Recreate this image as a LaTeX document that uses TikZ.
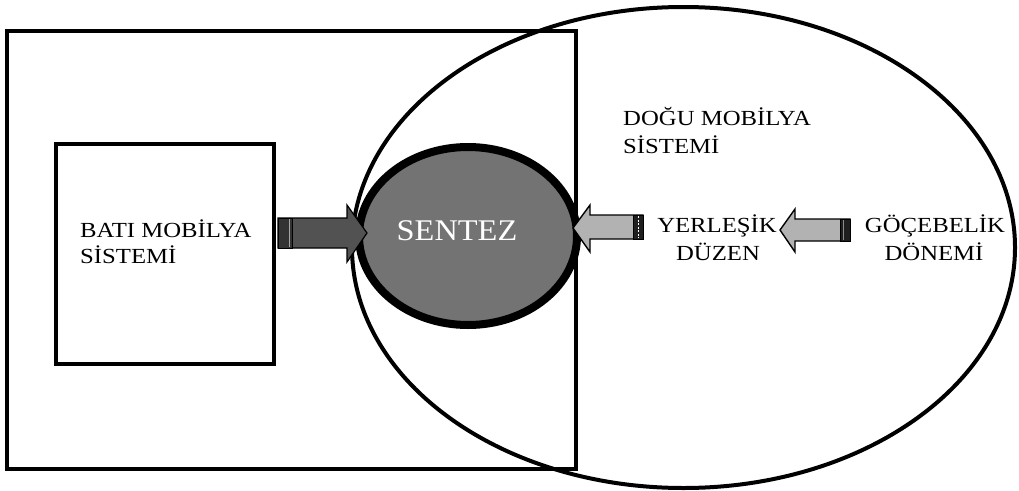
\documentclass[tikz,border=0pt]{standalone}
\usepackage{fontspec}
\setmainfont{Liberation Serif}
\newfontfamily\lblfont[FakeStretch=1.15]{Liberation Serif}
\newfontfamily\szfont[FakeStretch=1.08]{Liberation Serif}
\tikzset{
  frame/.style={draw=black, line width=4.5pt},
  inner/.style={draw=black, line width=3.6pt},
  sentez/.style={draw=black, line width=8pt, fill=black!55},
  lbl/.style={inner sep=0pt, font=\lblfont\fontsize{21.5}{25}\selectfont},
  darkarrow/.style={draw=black, line width=1.2pt, fill=black!68, line join=miter},
  lightarrow/.style={draw=black, line width=1.4pt, fill=black!30, line join=miter},
  capbox/.style={draw=black, line width=1pt, fill=black!88},
}
\begin{document}
\begin{tikzpicture}[x=1pt,y=-1pt]
\useasboundingbox (0,0) rectangle (1019,490);
% outer frames
\draw[frame] (7,31) rectangle (576,469);
\draw[frame, line width=4pt] (683.5,247.5) ellipse [x radius=331.5pt, y radius=240.5pt];
\draw[inner] (56,144) rectangle (274,364);
% synthesis ellipse
\node[draw=none, inner sep=0pt, minimum width=0pt] (sz) at (468,236) {};
\draw[sentez] (sz.center) ellipse [x radius=109pt, y radius=89pt];
\node[inner sep=0pt, anchor=base, text=white, font=\szfont\fontsize{30}{34}\selectfont] (sent) at (457,240) {SENTEZ};
% arrow 1 (dark, pointing right)
\draw[darkarrow] (278,218) -- (347,218) -- (347,205) -- (367,233) -- (347,262) -- (347,248) -- (278,248) -- cycle;
\draw[capbox, fill=black!80] (278,218) rectangle (292,248);
\draw[black!35, line width=0.8pt] (289,219) -- (289,247);
% arrow 2 (light, pointing left into SENTEZ)
\draw[lightarrow] (643,215) -- (590,215) -- (590,205) -- (573,228) -- (590,252) -- (590,239) -- (643,239) -- cycle;
\draw[capbox] (633,215) rectangle (643,239);
\draw[white, line width=0.8pt, dash pattern=on 2pt off 1.5pt] (638,216) -- (638,238);
% arrow 3 (light, pointing left)
\draw[lightarrow] (850,219) -- (795,219) -- (795,209) -- (780,230) -- (795,252) -- (795,241) -- (850,241) -- cycle;
\draw[capbox] (840,219) rectangle (850,241);
\draw[black!45, line width=0.8pt] (843,220) -- (843,240);
% labels
\node[lbl, anchor=base west] (bati1) at (80,237) {BATI MOBİLYA};
\node[lbl, anchor=base west] (bati2) at (80,263) {SİSTEMİ};
\node[lbl, anchor=base west] (dogu1) at (623,125) {DOĞU MOBİLYA};
\node[lbl, anchor=base west] (dogu2) at (623,153) {SİSTEMİ};
\node[lbl, anchor=base] (yer1) at (717,232) {YERLEŞİK};
\node[lbl, anchor=base] (yer2) at (718,260) {DÜZEN};
\node[lbl, anchor=base] (goc1) at (935,232) {GÖÇEBELİK};
\node[lbl, anchor=base] (goc2) at (934,260) {DÖNEMİ};
\end{tikzpicture}
\end{document}
